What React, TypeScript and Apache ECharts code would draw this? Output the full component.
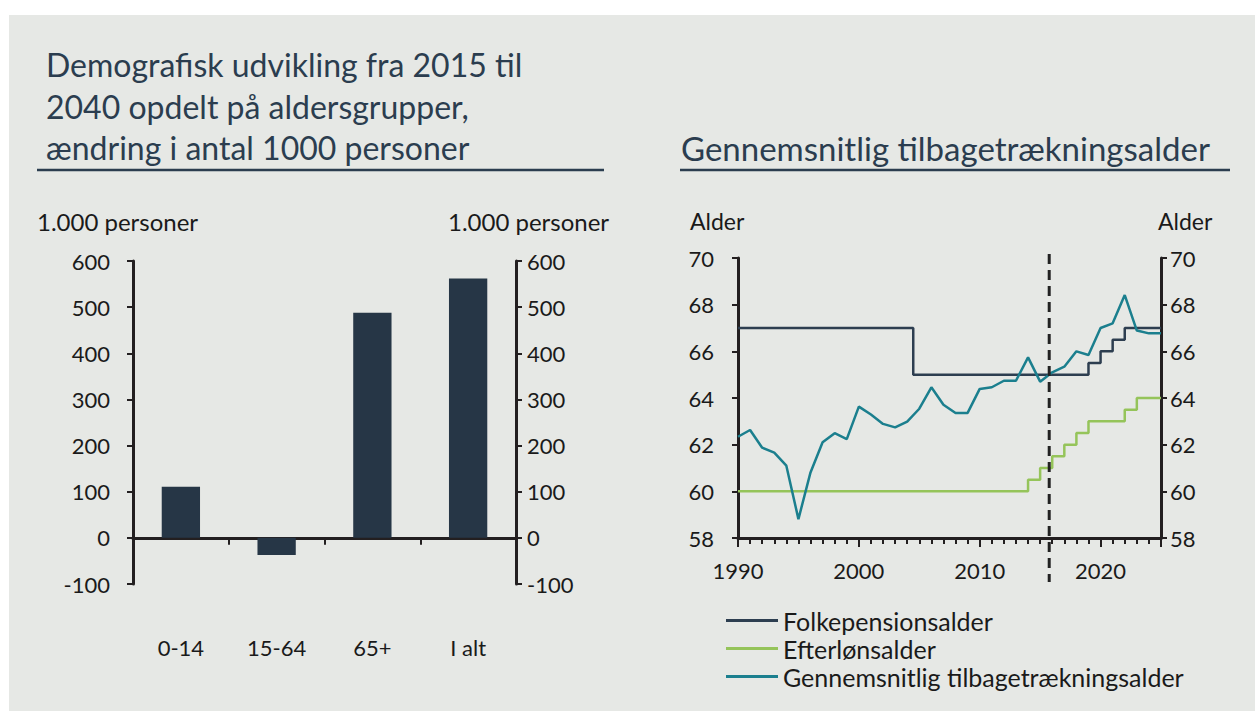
import React, { useEffect, useRef } from 'react';
import * as echarts from 'echarts';

// ---------- Data ----------
const ageGroups = ['0-14', '15-64', '65+', 'I alt'];
const popChange = [111, -37, 488, 562];

const years = [
  1990, 1991, 1992, 1993, 1994, 1995, 1996, 1997, 1998, 1999,
  2000, 2001, 2002, 2003, 2004, 2005, 2006, 2007, 2008, 2009,
  2010, 2011, 2012, 2013, 2014, 2015, 2016, 2017, 2018, 2019,
  2020, 2021, 2022, 2023, 2024, 2025,
];
const avgRetirementAge = [
  62.34, 62.63, 61.87, 61.66, 61.1, 58.81, 60.81, 62.1, 62.49, 62.24,
  63.63, 63.29, 62.89, 62.74, 62.99, 63.54, 64.46, 63.71, 63.36, 63.36,
  64.39, 64.46, 64.74, 64.74, 65.74, 64.7, 65.1, 65.34, 66.0, 65.84,
  67.0, 67.2, 68.41, 66.89, 66.77, 66.77,
];
const folkYears = [1990, 2004.5, 2019, 2020, 2021, 2022, 2025];
const folkAges = [67, 65, 65.5, 66, 66.5, 67, 67];
const efterYears = [1990, 2014, 2015, 2016, 2017, 2018, 2019, 2022, 2023, 2025];
const efterAges = [60, 60.5, 61, 61.5, 62, 62.5, 63, 63.5, 64, 64];
const decadeLabels = [1990, 2000, 2010, 2020];
const forecastStart = 2015.75;

const leftTitle = 'Demografisk udvikling fra 2015 til\n2040 opdelt på aldersgrupper,\nændring i antal 1000 personer';
const rightTitle = 'Gennemsnitlig tilbagetrækningsalder';
const barUnit = '1.000 personer';
const lineUnit = 'Alder';
const seriesNames = ['Folkepensionsalder', 'Efterlønsalder', 'Gennemsnitlig tilbagetrækningsalder'];

// ---------- Style ----------
const FONT = 'Lato';
const AXIS = '#231f20';
const TXT = '#1a1a1a';
const TITLE = '#2b3d4f';
const BAR = '#263646';
const FOLK = '#2d3e50';
const EFTER = '#95c45a';
const TEAL = '#1b7f8e';

const axisLine = { show: true, onZero: false, lineStyle: { color: AXIS, width: 3 } };
const tick = (len: number) => ({ show: true, length: len, lineStyle: { color: AXIS, width: 2 } });
const lbl = (margin: number) => ({ margin, fontSize: 22, color: TXT, fontFamily: FONT });

export default function App() {
  const ref = useRef<HTMLDivElement>(null);

  useEffect(() => {
    if (!ref.current) return;
    const chart = echarts.init(ref.current, undefined, { renderer: 'svg' });

    const option: any = {
      animation: false,
      backgroundColor: 'transparent',
      textStyle: { fontFamily: FONT },
      grid: [
        { left: 133, right: 739, top: 261, bottom: 127 },
        { left: 738, right: 94, top: 258, bottom: 173 },
      ],
      legend: {
        orient: 'vertical',
        left: 721,
        top: 603,
        icon: 'rect',
        itemWidth: 52,
        itemHeight: 3,
        itemGap: 3,
        itemTextGap: 5,
        textStyle: { fontSize: 25, lineHeight: 25, color: TXT, fontFamily: FONT },
        data: seriesNames,
      },
      xAxis: [
        {
          gridIndex: 0, type: 'category', data: ageGroups, position: 'bottom',
          axisLine: { show: false, onZero: false }, axisTick: { show: false },
          axisLabel: lbl(52),
        },
        {
          gridIndex: 0, type: 'category', data: ageGroups, position: 'bottom',
          axisLine: { show: true, onZero: true, onZeroAxisIndex: 0, lineStyle: { color: AXIS, width: 3 } },
          axisTick: { ...tick(7), interval: 0 },
          axisLabel: { show: false },
        },
        {
          gridIndex: 1, type: 'value', min: 1990, max: 2025, interval: 1, position: 'bottom',
          axisLine, axisTick: tick(6), splitLine: { show: false },
          axisLabel: { ...lbl(21), formatter: (v: number) => (decadeLabels.includes(v) ? String(v) : '') },
        },
        {
          gridIndex: 1, type: 'value', min: 1990, max: 2025, interval: 10, position: 'bottom',
          axisLine: { show: false, onZero: false }, axisTick: tick(9), splitLine: { show: false },
          axisLabel: { show: false },
        },
      ],
      yAxis: [
        {
          gridIndex: 0, type: 'value', min: -100, max: 600, interval: 100, position: 'left',
          axisLine, axisTick: tick(6), axisLabel: lbl(23), splitLine: { show: false },
        },
        {
          gridIndex: 0, type: 'value', min: -100, max: 600, interval: 100, position: 'right',
          axisLine, axisTick: tick(6), axisLabel: lbl(11), splitLine: { show: false },
        },
        {
          gridIndex: 1, type: 'value', min: 58, max: 70, interval: 2, position: 'left',
          axisLine, axisTick: tick(6), axisLabel: lbl(24), splitLine: { show: false },
        },
        {
          gridIndex: 1, type: 'value', min: 58, max: 70, interval: 2, position: 'right',
          axisLine, axisTick: tick(6), axisLabel: lbl(9), splitLine: { show: false },
        },
      ],
      series: [
        {
          type: 'bar', name: 'Befolkning', xAxisIndex: 1, yAxisIndex: 0,
          data: popChange, barWidth: '40%', itemStyle: { color: BAR },
        },
        {
          type: 'line', name: seriesNames[0], xAxisIndex: 2, yAxisIndex: 2,
          data: folkYears.map((y, i) => [y, folkAges[i]]), step: 'end',
          showSymbol: false, color: FOLK, lineStyle: { color: FOLK, width: 2.5 }, z: 3,
        },
        {
          type: 'line', name: seriesNames[1], xAxisIndex: 2, yAxisIndex: 2,
          data: efterYears.map((y, i) => [y, efterAges[i]]), step: 'end',
          showSymbol: false, color: EFTER, lineStyle: { color: EFTER, width: 2.5 }, z: 3,
        },
        {
          type: 'line', name: seriesNames[2], xAxisIndex: 2, yAxisIndex: 2,
          data: years.map((y, i) => [y, avgRetirementAge[i]]),
          showSymbol: false, color: TEAL, lineStyle: { color: TEAL, width: 2.5 }, z: 4,
        },
      ],
    };
    chart.setOption(option);

    const dx = chart.convertToPixel({ xAxisIndex: 2 }, forecastStart) as number;
    const yTop = chart.convertToPixel({ yAxisIndex: 2 }, 70) as number;
    const yBot = chart.convertToPixel({ yAxisIndex: 2 }, 58) as number;

    chart.setOption({
      graphic: [
        {
          type: 'text', left: 46, top: 44,
          style: { text: leftTitle, font: `32px ${FONT}`, fill: TITLE, lineHeight: 41.5 },
        },
        {
          type: 'line', shape: { x1: 37, y1: 170, x2: 604, y2: 170 },
          style: { stroke: TITLE, lineWidth: 2.5 },
        },
        {
          type: 'text', left: 681, top: 127,
          style: { text: rightTitle, font: `33px ${FONT}`, fill: TITLE, lineHeight: 41.5 },
        },
        {
          type: 'line', shape: { x1: 680, y1: 170, x2: 1230, y2: 170 },
          style: { stroke: TITLE, lineWidth: 2.5 },
        },
        { type: 'text', left: 37, top: 209, style: { text: barUnit, font: `24px ${FONT}`, fill: TXT } },
        { type: 'text', left: 448, top: 209, style: { text: barUnit, font: `24px ${FONT}`, fill: TXT } },
        { type: 'text', left: 690, top: 209, style: { text: lineUnit, font: `23px ${FONT}`, fill: TXT } },
        { type: 'text', left: 1158, top: 209, style: { text: lineUnit, font: `23px ${FONT}`, fill: TXT } },
        {
          type: 'line', z: 10,
          shape: { x1: dx, y1: yTop - 4, x2: dx, y2: yBot + 44 },
          style: { stroke: '#222222', lineWidth: 3, lineDash: [10, 6] },
        },
      ],
    });

    return () => chart.dispose();
  }, []);

  return (
    <div style={{ position: 'fixed', left: 0, top: 0, width: 1255, height: 711, background: '#ffffff' }}>
      <div style={{ position: 'absolute', left: 9, top: 15, right: 0, bottom: 0, background: '#e6e8e5' }} />
      <div ref={ref} style={{ position: 'absolute', left: 0, top: 0, width: 1255, height: 711 }} />
    </div>
  );
}
